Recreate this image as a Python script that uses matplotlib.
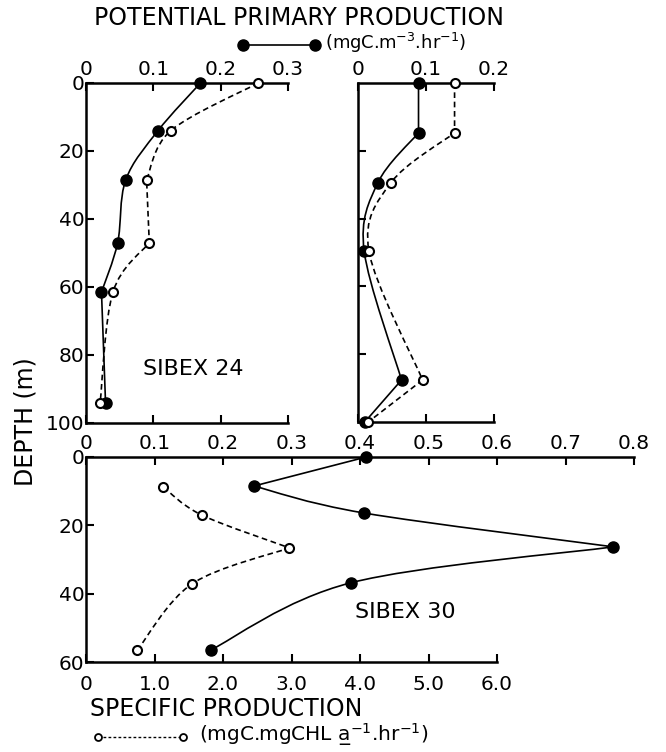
import matplotlib
matplotlib.use("Agg")
import matplotlib.pyplot as plt
import numpy as np
from matplotlib.path import Path
from matplotlib.patches import PathPatch
from matplotlib.lines import Line2D

plt.rcParams['font.family'] = ['DejaVu Sans']

# ---------------- data ----------------
# SIBEX 24 (upper left panel)
s24_depth = [0, 14, 28.5, 47, 61.5, 94]
s24_ppp = [0.170, 0.107, 0.059, 0.047, 0.023, 0.029]          # filled, potential primary production
s24_sp = [0.256, 0.126, 0.090, 0.094, 0.040, 0.021]           # open, specific production (panel units)

# upper right panel
s30a_depth = [0, 14.7, 29.5, 49.5, 87.6, 100]
s30a_ppp = [0.089, 0.089, 0.029, 0.009, 0.064, 0.010]
s30a_sp = [0.142, 0.142, 0.048, 0.016, 0.095, 0.015]

# SIBEX 30 (lower panel)
s30_ppp_depth = [0, 8.5, 16.4, 26.3, 36.8, 56.5]
s30_ppp = [0.409, 0.245, 0.406, 0.770, 0.387, 0.182]           # top axis (mgC m-3 hr-1)
s30_sp_depth = [8.8, 17, 26.6, 37.1, 56.5]
s30_sp = [1.13, 1.69, 2.97, 1.55, 0.75]                        # bottom axis (mgC mgChl a-1 hr-1)

top_ticks_left = [0, 0.1, 0.2, 0.3]
top_ticks_right = [0, 0.1, 0.2]
mid_ticks = [0, 0.1, 0.2, 0.3, 0.4, 0.5, 0.6, 0.7, 0.8]
bottom_ticks = [0, 1.0, 2.0, 3.0, 4.0, 5.0, 6.0]
bottom_tick_labels = ['0', '1.0', '2.0', '3.0', '4.0', '5.0', '6.0']
depth_ticks_top = [0, 20, 40, 60, 80, 100]
depth_ticks_bottom = [0, 20, 40, 60]

W, H = 666, 752
fig = plt.figure(figsize=(W / 100, H / 100), dpi=100)


def box(x0, y0, x1, y1):
    return [x0 / W, 1 - y1 / H, (x1 - x0) / W, (y1 - y0) / H]


def smooth(xs, ys, cusps=()):
    pts = np.column_stack([xs, ys]).astype(float)
    n = len(pts)
    tin = np.zeros_like(pts)
    tout = np.zeros_like(pts)
    for i in range(n):
        if i in cusps or i == 0 or i == n - 1:
            if i < n - 1:
                tout[i] = (pts[i + 1] - pts[i]) * 0.5
            if i > 0:
                tin[i] = (pts[i] - pts[i - 1]) * 0.5
        else:
            t = (pts[i + 1] - pts[i - 1]) / 2
            tin[i] = t
            tout[i] = t
    verts = [pts[0]]
    codes = [Path.MOVETO]
    for i in range(n - 1):
        c1 = pts[i] + tout[i] / 3
        c2 = pts[i + 1] - tin[i + 1] / 3
        verts += [c1, c2, pts[i + 1]]
        codes += [Path.CURVE4] * 3
    return Path(verts, codes)


LW = 1.2
SPW = 1.8
FS = 14.5
DASH = (0, (3.4, 2.2))


def curve(ax, xs, ys, dashed, cusps=()):
    p = smooth(xs, ys, cusps)
    ax.add_patch(PathPatch(p, fill=False, lw=LW, color='black',
                           linestyle=DASH if dashed else '-', zorder=2))


def filled(ax, xs, ys):
    ax.plot(xs, ys, 'o', color='black', ms=8, zorder=3)


def opened(ax, xs, ys):
    ax.plot(xs, ys, 'o', mfc='white', mec='black', mew=1.5, ms=6.5, zorder=4)


def style(ax):
    for s in ax.spines.values():
        s.set_linewidth(SPW)
    ax.spines['right'].set_visible(False)
    ax.tick_params(width=1.5, length=6, labelsize=FS, direction='in')
    ax.set_facecolor('none')


# ---------- upper left ----------
ax1 = fig.add_axes(box(86, 83, 288, 423))
style(ax1)
ax1.set_xlim(0, 0.3)
ax1.set_ylim(100, 0)
ax1.xaxis.set_ticks_position('both')
ax1.tick_params(axis='x', labeltop=True, labelbottom=False, pad=3)
ax1.set_xticks(top_ticks_left)
ax1.set_xticklabels(['0', '0.1', '0.2', '0.3'])
ax1.set_yticks(depth_ticks_top)
ax1.tick_params(axis='y', pad=1)
curve(ax1, s24_ppp, s24_depth, False, cusps=(4,))
curve(ax1, s24_sp, s24_depth, True, cusps=(2, 3))
filled(ax1, s24_ppp, s24_depth)
opened(ax1, s24_sp, s24_depth)
ax1.text(0.085, 84, 'SIBEX 24', fontsize=16, va='center', ha='left')

# ---------- upper right ----------
ax2 = fig.add_axes(box(358, 83, 494, 422))
style(ax2)
ax2.set_xlim(0, 0.2)
ax2.set_ylim(100, 0)
ax2.xaxis.set_ticks_position('both')
ax2.tick_params(axis='x', labeltop=True, labelbottom=False, pad=3)
ax2.set_xticks(top_ticks_right)
ax2.set_xticklabels(['0', '0.1', '0.2'])
ax2.set_yticks(depth_ticks_top[1:-1])
ax2.tick_params(axis='y', labelleft=False)
curve(ax2, s30a_ppp, s30a_depth, False, cusps=(1, 4))
curve(ax2, s30a_sp, s30a_depth, True, cusps=(1, 4))
filled(ax2, s30a_ppp, s30a_depth)
opened(ax2, s30a_sp, s30a_depth)
for a in (ax1, ax2):
    for art in a.lines + a.patches:
        art.set_clip_on(False)

# ---------- lower panel ----------
ax3 = fig.add_axes(box(86, 457, 634, 662))
style(ax3)
ax3.set_xlim(0, 8.0)
ax3.set_ylim(60, 0)
ax3.spines['bottom'].set_bounds(0, 6.0)
ax3.set_xticks(bottom_ticks)
ax3.set_xticklabels(bottom_tick_labels)
ax3.set_yticks(depth_ticks_bottom)
ax3.tick_params(axis='x', pad=9)
ax3.tick_params(axis='y', pad=1)
ax3t = ax3.twiny()
ax3t.set_xlim(0, 0.8)
ax3t.set_ylim(60, 0)
for s in ax3t.spines.values():
    s.set_visible(False)
ax3t.spines['top'].set_visible(True)
ax3t.spines['top'].set_linewidth(SPW)
ax3t.set_xticks(mid_ticks)
ax3t.set_xticklabels(['0', '0.1', '0.2', '0.3', '0.4', '0.5', '0.6', '0.7', '0.8'])
ax3t.tick_params(axis='x', width=1.5, length=6, labelsize=FS, direction='in', pad=3)
ax3.spines['top'].set_visible(False)
curve(ax3t, s30_ppp, s30_ppp_depth, False, cusps=(1, 3))
curve(ax3, s30_sp, s30_sp_depth, True, cusps=(2,))
filled(ax3t, s30_ppp, s30_ppp_depth)
opened(ax3, s30_sp, s30_sp_depth)
for art in ax3t.lines + ax3t.patches:
    art.set_clip_on(False)
ax3.text(3.93, 45.5, 'SIBEX 30', fontsize=16, va='center', ha='left')

# ---------- figure texts ----------
fig.text(299 / W, 1 - 18 / H, 'POTENTIAL PRIMARY PRODUCTION', fontsize=17,
         ha='center', va='center')
fig.add_artist(Line2D([243 / W, 315 / W], [1 - 45 / H] * 2, color='black', lw=LW,
                      marker='o', ms=8, transform=fig.transFigure))
fig.text(325 / W, 1 - 43 / H, '(mgC.m$^{-3}$.hr$^{-1}$)', fontsize=13,
         ha='left', va='center')
fig.text(25 / W, 1 - 422 / H, 'DEPTH (m)', fontsize=17, rotation=90,
         ha='center', va='center')
fig.text(90 / W, 1 - 709 / H, 'SPECIFIC PRODUCTION', fontsize=17,
         ha='left', va='center')
fig.add_artist(Line2D([98 / W, 183 / W], [1 - 737 / H] * 2, color='black', lw=1.0,
                      linestyle=(0, (2, 1.6)), marker='o', ms=5, mfc='white', mew=1.3,
                      transform=fig.transFigure))
fig.text(199 / W, 1 - 735 / H, '(mgC.mgCHL a\u0332$^{-1}$.hr$^{-1}$)', fontsize=14.5,
         ha='left', va='center')

fig.savefig('out.png', dpi=100)
